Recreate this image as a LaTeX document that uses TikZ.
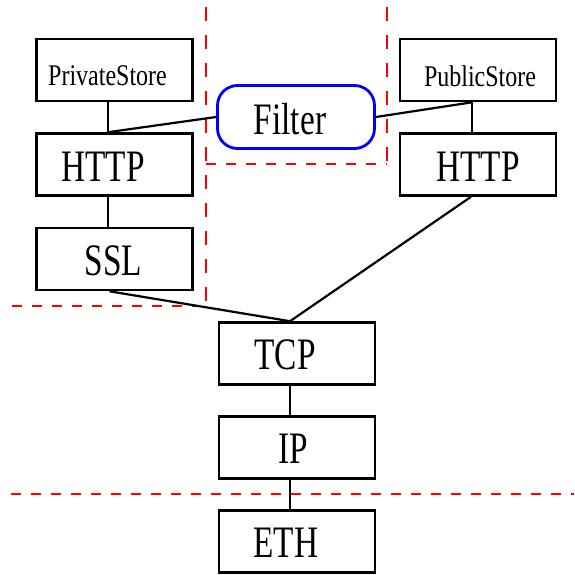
\documentclass[tikz,border=0pt]{standalone}
\usepackage{fontspec}
\newfontfamily\bigf[FakeStretch=0.74]{Liberation Serif}
\newfontfamily\smf[FakeStretch=0.80]{Liberation Serif}
\begin{document}
\begin{tikzpicture}[x=1pt,y=-1pt,
 layer/.style={draw=black,line width=2.6pt,minimum width=156pt,minimum height=62pt,inner sep=0pt},
 big/.style={font=\bigf\fontsize{45}{50}\selectfont},
 small/.style={font=\smf\fontsize{30}{34}\selectfont},
 filterbox/.style={draw=blue,line width=2.8pt,rounded corners=20pt,minimum width=157pt,minimum height=63pt,inner sep=0pt},
 link/.style={line width=2.2pt},
 vdash/.style={red,line width=1.3pt,dash pattern=on 14pt off 14pt},
 hdash/.style={red,line width=1.3pt,dash pattern=on 10pt off 10pt}]
\useasboundingbox (0,0) rectangle (574,575);
% region borders
\coordinate (v1a) at (206,7);   \coordinate (v1b) at (206,301);
\coordinate (h1a) at (12,306);  \coordinate (h1b) at (200,306);
\coordinate (v2a) at (387,7);   \coordinate (v2b) at (387,164);
\coordinate (h2a) at (206,164); \coordinate (h2b) at (387,164);
\coordinate (h3a) at (11,494);  \coordinate (h3b) at (574,494);
\draw[vdash] (v1a) -- (v1b);
\draw[vdash] (v2a) -- (v2b);
\draw[hdash] (h1a) -- (h1b);
\draw[hdash] (h2a) -- (h2b);
\draw[hdash] (h3a) -- (h3b);
% nodes
\node[layer,label={[small,xshift=-7pt,yshift=-6pt]center:PrivateStore}] (ps) at (114.5,70) {};
\node[layer,label={[big,xshift=-11.5pt,yshift=-2.5pt]center:HTTP}] (hl) at (114.5,164.5) {};
\node[layer,label={[big,xshift=-1pt,yshift=-2pt]center:SSL}] (ssl) at (114.5,259) {};
\node[layer,label={[small,xshift=2pt,yshift=-6pt]center:PublicStore}] (pub) at (478,70) {};
\node[layer,label={[big,xshift=0pt,yshift=-2.5pt]center:HTTP}] (hr) at (478,164.5) {};
\node[filterbox,label={[big,xshift=-6pt,yshift=-2pt]center:Filter}] (flt) at (296,117) {};
\node[layer,label={[big,xshift=-12pt,yshift=-1pt]center:TCP}] (tcp) at (297,353.5) {};
\node[layer,label={[big,xshift=-4pt,yshift=-1.5pt]center:IP}] (ip) at (297,447.5) {};
\node[layer,label={[big,xshift=-11pt,yshift=-1.5pt]center:ETH}] (eth) at (297,541.5) {};
% connectors
\draw[link] ([xshift=-6.5pt]ps.south) -- ([xshift=-6.5pt]hl.north);
\draw[link] ([xshift=-6.5pt]hl.south) -- ([xshift=-6.5pt]ssl.north);
\draw[link] ([xshift=-6.5pt]hl.north) -- (flt.west);
\draw[link] (flt.east) -- ([xshift=-6pt]pub.south);
\draw[link] ([xshift=-6pt]pub.south) -- ([xshift=-6pt]hr.north);
\draw[link] ([xshift=-7pt]hr.south) -- ([xshift=-7pt]tcp.north);
\draw[link] ([xshift=-5pt]ssl.south) -- ([xshift=-7pt]tcp.north);
\draw[link] ([xshift=-7pt]tcp.south) -- ([xshift=-7pt]ip.north);
\draw[link] ([xshift=-7pt]ip.south) -- ([xshift=-7pt]eth.north);
\end{tikzpicture}
\end{document}
